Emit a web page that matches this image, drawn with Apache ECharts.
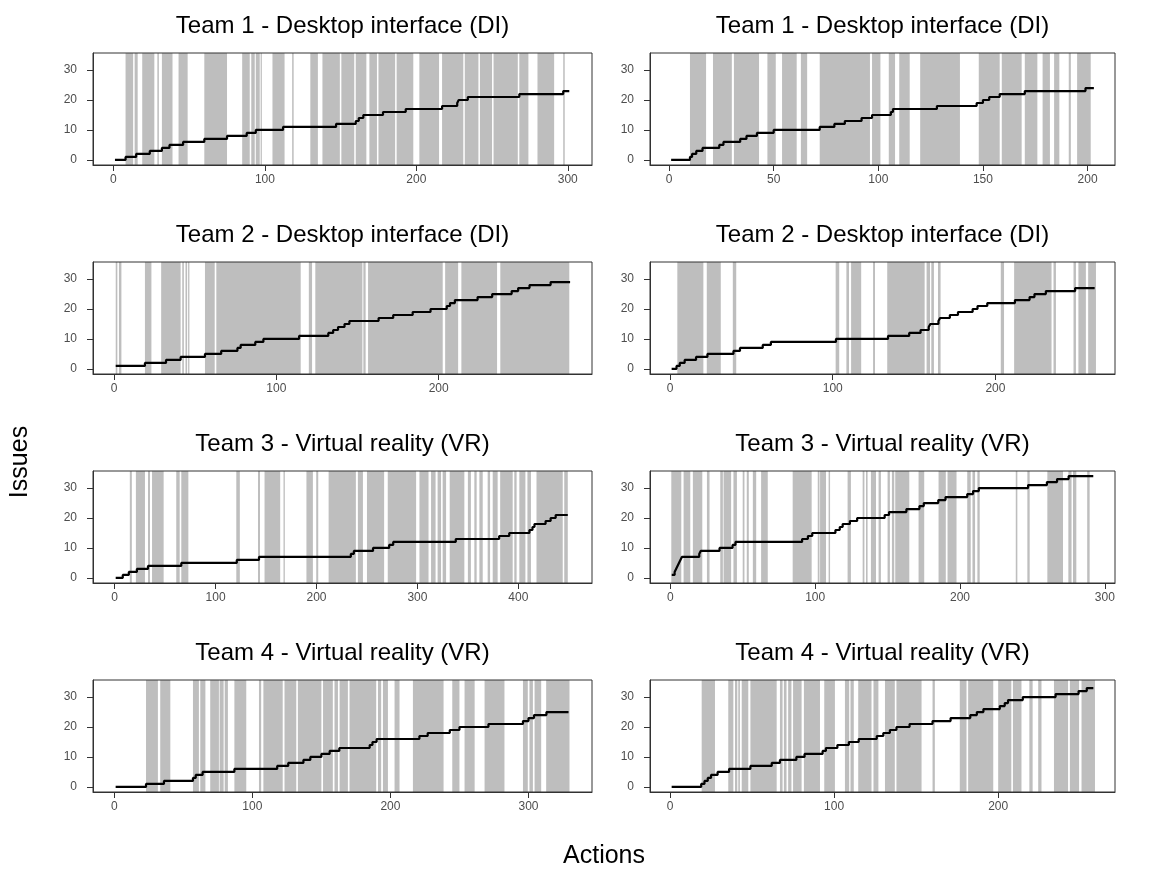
<!DOCTYPE html>
<html>
<head>
<meta charset="utf-8">
<title>Issues vs actions</title>
<script src="https://cdn.jsdelivr.net/npm/echarts@6/dist/echarts.min.js"></script>
<style>
  html, body { margin: 0; padding: 0; background: #fff; }
  #main { width: 1160px; height: 870px; }
</style>
</head>
<body>
<div id="main"></div>
<script>
// panel titles, one per row (both panels of a row share it)
var rowTitles = [
  'Team 1 - Desktop interface (DI)',
  'Team 2 - Desktop interface (DI)',
  'Team 3 - Virtual reality (VR)',
  'Team 4 - Virtual reality (VR)'
];

// tick labels per panel (reading order)
var xTicks = [
  [0, 100, 200, 300], [0, 50, 100, 150, 200],
  [0, 100, 200], [0, 100, 200],
  [0, 100, 200, 300, 400], [0, 100, 200, 300],
  [0, 100, 200, 300], [0, 100, 200]
];
var yTicks = [0, 10, 20, 30];

// x extents of each panel (free scales)
var xRanges = [
  [-13.5, 316], [-9.1, 213.1],
  [-13, 294.5], [-12.3, 273.5],
  [-21.5, 473], [-14, 307],
  [-15.4, 346], [-12.2, 271.2]
];
var yRange = [-1.7, 35.7];

// gray bands: [start action, end action]
var bands1a = [[8,13],[14,16],[19,27],[29,30],[32,39],[43,49],[60,75],[85,90],[91,93.3],[94,96.6],[97.2,98],[105,113],[118,119],[130,135],[138,149.5],[150.5,159],[160,167],[169,174],[175,186],[187,198],[202,215],[217,231],[232,241],[242,250],[251,267],[268,274],[280,291],[297,298]];
var bands1b = [[10,17.7],[21,30],[31,43],[47,51],[54,61],[63,66],[72,96],[97,101],[105,108],[110,115],[120,139],[148,158],[159,168.5],[170,176],[178.5,182],[184,186.5],[191,192],[195,201.5]];
var bands2a = [[1,2],[3,4.5],[19,23],[29,41],[42,43],[44,45],[45.6,46.4],[56,62],[63,115],[120,122],[124,153],[153.6,155],[156.5,202.5],[204,212],[214,236],[238,280.5]];
var bands2b = [[4.5,20.5],[22.6,31.2],[38.6,40.7],[101.8,104],[108.4,110],[111.3,117.5],[124.8,126],[133.5,156.5],[157.7,159.8],[160.6,162.2],[164.7,166.3],[203.3,205.3],[211.5,234.5],[235.7,237.2],[248,249.5],[251,255.6],[257,261.8]];
var bands3a = [[15,17],[21,30],[33,35],[37,48.5],[61,64.4],[66,73],[120.5,124],[142,144],[148.5,164],[167.3,168.6],[190,196.4],[199.7,201.7],[212,239],[241,246],[250,267],[270.6,298.7],[302,311],[313.5,318],[320,323.4],[325,328.4],[332,346.5],[350,353],[356.4,358.7],[361.4,364.7],[369.6,372],[374.6,379.5],[382,394.4],[396,398.3],[401,407],[409,412.5],[418,444],[445.5,449]];
var bands3b = [[0.7,7.6],[9.2,13.8],[15.6,22.1],[25.3,27.1],[34.5,36.3],[36.8,42],[43.6,46],[50,51.2],[52.8,54.2],[57,59.3],[62.7,67.3],[84.5,97.6],[101.8,103],[103.4,107.5],[109.3,110.3],[122.4,124.7],[132.8,134],[135.1,136.2],[138.5,142],[143.8,145.4],[150,151.6],[153,154.6],[155.3,165],[171.4,175.3],[185.2,190.2],[191.4,197.6],[205,207.4],[208.6,210.4],[212,213.6],[238.5,239.6],[246.5,248.1],[260.3,271.1],[274.8,277],[278,280.3],[287.8,289.5]];
var bands4a = [[23,31.6],[33.3,40.6],[57,61.3],[62.3,66],[69.5,75.8],[76.3,79.2],[80,82.3],[87,95.6],[104.8,106.4],[108,122],[123.3,131.8],[133,150],[151.2,158.3],[159.5,162],[163.2,169.2],[170.4,189.7],[191,193.3],[194.6,198.2],[203,206.6],[216.3,238.5],[244.8,250],[253.7,261],[268.2,282.6],[296,299.5],[300.7,303.2],[304.4,309.2],[312.8,329.7]];
var bands4b = [[19.3,27.4],[35.5,38.6],[39.6,41],[41.6,42.6],[43.7,47.7],[49,65],[67,68.6],[69.4,71],[72,74],[75,80.2],[81.6,91.4],[94,100.5],[106.6,109.2],[110,112],[114.7,122.8],[124,127],[131,137],[138,153.3],[160,161.4],[176.6,180.7],[181.7,197],[200,208],[209,214.2],[219,221],[224.4,226.4],[234,242.6],[243.7,249.3],[250.8,259]];

// cumulative issues: [action where count changes, new count]
var issues1a = [[1,0],[8,1],[15,2],[24,3],[32,4],[37,5],[46,6],[60,7],[75,8],[88,9],[94,10],[112,11],[147,12],[160,13],[162,14],[165,15],[178,16],[193,17],[217,18],[227,19],[228,20],[234,21],[268,22],[297,23],[301,23]];
var issues1b = [[1,0],[10,1],[11,2],[13,3],[16,4],[24,5],[26,6],[34,7],[37,8],[42,9],[50,10],[72,11],[79,12],[84,13],[92,14],[97,15],[106,16],[107,17],[128,18],[147,19],[150,20],[153,21],[158,22],[170,23],[199,24],[203,24]];
var issues2a = [[1,1],[19,2],[32,3],[41,4],[56,5],[66,6],[76,7],[78,8],[87,9],[92,10],[114,11],[132,12],[135,13],[138,14],[142,15],[145,16],[163,17],[172,18],[184,19],[195,20],[205,21],[207,22],[210,23],[224,24],[233,25],[245,26],[249,27],[256,28],[269,29],[281,29]];
var issues2b = [[1,0],[4,1],[6,2],[9,3],[16,4],[23,5],[39,6],[43,7],[57,8],[62,9],[102,10],[134,11],[147,12],[154,13],[159,14],[160,15],[165,16],[166,17],[172,18],[177,19],[186,20],[189,21],[195,22],[212,23],[221,24],[224,25],[231,26],[249,27],[261,27]];
var issues3a = [[1,0],[8,1],[14,2],[22,3],[33,4],[66,5],[121,6],[143,7],[234,8],[237,9],[256,10],[272,11],[276,12],[338,13],[381,14],[391,15],[411,16],[414,17],[416,18],[427,19],[432,20],[437,21],[449,21]];
var issues3b = [[1,1],[3,2],[4,3],[5,4],[6,5],[7,6],[8,7],[20,8],[21,9],[34,10],[43,11],[45,12],[91,13],[95,14],[98,15],[114,16],[117,17],[119,18],[124,19],[129,20],[148,21],[151,22],[163,23],[172,24],[175,25],[185,26],[190,27],[205,28],[209,29],[213,30],[247,31],[260,32],[267,33],[275,34],[292,34]];
var issues4a = [[1,0],[23,1],[36,2],[57,3],[59,4],[64,5],[87,6],[118,7],[126,8],[137,9],[142,10],[150,11],[156,12],[163,13],[185,14],[187,15],[190,16],[221,17],[227,18],[243,19],[250,20],[271,21],[296,22],[300,23],[304,24],[313,25],[329,25]];
var issues4b = [[1,0],[19,1],[21,2],[23,3],[25,4],[29,5],[36,6],[49,7],[62,8],[67,9],[77,10],[82,11],[93,12],[95,13],[102,14],[109,15],[115,16],[126,17],[130,18],[134,19],[138,20],[146,21],[160,22],[171,23],[183,24],[187,25],[191,26],[201,27],[204,28],[206,29],[215,30],[235,31],[249,32],[254,33],[258,33]];

var allBands = [bands1a, bands1b, bands2a, bands2b, bands3a, bands3b, bands4a, bands4b];
var allIssues = [issues1a, issues1b, issues2a, issues2b, issues3a, issues3b, issues4a, issues4b];

// layout of the 4x2 panel grid
var colLeft = [93, 650];
var colWidth = [499, 465];
var rowTop = [53, 262, 471, 680];
var plotH = 112;
var font = '"Liberation Sans", Arial, Helvetica, sans-serif';

var grids = [], xAxes = [], yAxes = [], series = [], texts = [];

for (var i = 0; i < 8; i++) {
  var row = Math.floor(i / 2), col = i % 2;
  grids.push({
    left: colLeft[col], top: rowTop[row], width: colWidth[col], height: plotH,
    containLabel: false, outerBoundsMode: 'none',
    show: true, z: 10, backgroundColor: 'transparent',
    borderColor: '#333333', borderWidth: 1
  });
  xAxes.push({
    gridIndex: i, type: 'value', min: xRanges[i][0], max: xRanges[i][1],
    axisLine: { show: true, onZero: false, lineStyle: { color: '#333333', width: 1 } },
    axisTick: { show: true, customValues: xTicks[i], length: 6, lineStyle: { color: '#333333' } },
    axisLabel: { customValues: xTicks[i], color: '#4d4d4d', fontSize: 12, fontFamily: font, margin: 9 },
    splitLine: { show: false }
  });
  yAxes.push({
    gridIndex: i, type: 'value', min: yRange[0], max: yRange[1],
    axisLine: { show: true, onZero: false, lineStyle: { color: '#333333', width: 1 } },
    axisTick: { show: true, customValues: yTicks, length: 6, lineStyle: { color: '#333333' } },
    axisLabel: { customValues: yTicks, color: '#4d4d4d', fontSize: 12, fontFamily: font, margin: 16 },
    splitLine: { show: false }
  });
  // gray activity bands
  series.push({
    type: 'custom', xAxisIndex: i, yAxisIndex: i, z: 1, silent: true,
    data: allBands[i],
    encode: { x: [0, 1] },
    renderItem: function (params, api) {
      var p0 = api.coord([api.value(0), yRange[1]]);
      var p1 = api.coord([api.value(1), yRange[0]]);
      return {
        type: 'rect',
        shape: { x: p0[0], y: p0[1], width: Math.max(p1[0] - p0[0], 1), height: p1[1] - p0[1] },
        style: { fill: '#bebebe' }
      };
    }
  });
  // cumulative issues
  series.push({
    type: 'line', xAxisIndex: i, yAxisIndex: i, z: 3, silent: true,
    step: 'end', showSymbol: false, animation: false,
    data: allIssues[i],
    lineStyle: { color: '#000000', width: 2.2 }
  });
  texts.push({
    type: 'text', x: colLeft[col] + colWidth[col] / 2, y: rowTop[row] - 27,
    style: {
      text: rowTitles[row], fill: '#000', font: '24px ' + font,
      align: 'center', verticalAlign: 'middle'
    }
  });
}

texts.push({
  type: 'text', x: 604, y: 856,
  style: { text: 'Actions', fill: '#000', font: '25px ' + font, align: 'center', verticalAlign: 'middle' }
});
texts.push({
  type: 'text', x: 20, y: 462, rotation: Math.PI / 2,
  style: { text: 'Issues', fill: '#000', font: '25px ' + font, align: 'center', verticalAlign: 'middle' }
});

var myChart = echarts.init(document.getElementById('main'));
myChart.setOption({
  animation: false,
  backgroundColor: '#ffffff',
  grid: grids,
  xAxis: xAxes,
  yAxis: yAxes,
  series: series,
  graphic: texts
});
</script>
</body>
</html>
